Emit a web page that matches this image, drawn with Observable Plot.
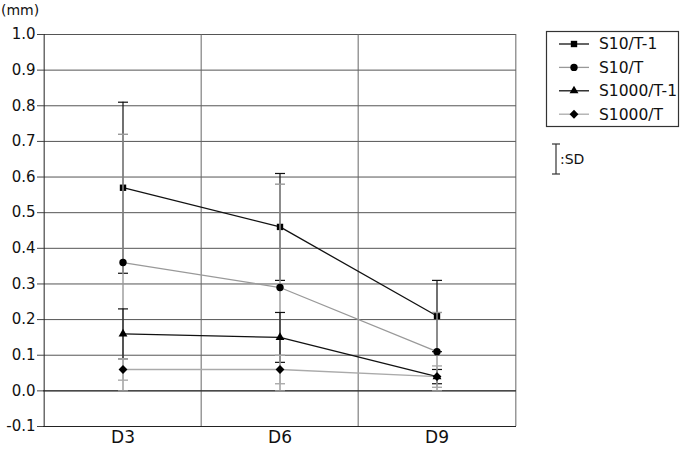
<!DOCTYPE html>
<html><head><meta charset="utf-8">
<script src="https://cdn.jsdelivr.net/npm/d3@7"></script>
<script src="https://cdn.jsdelivr.net/npm/@observablehq/plot@0.6"></script>
<style>
body{margin:0;background:#fff;font-family:"DejaVu Sans",sans-serif;}
#wrap{position:relative;width:685px;height:455px;}
#unit{position:absolute;left:1px;top:2px;font-size:14px;color:#111;}
#legend{position:absolute;left:0;top:0;pointer-events:none;}
</style></head>
<body><div id="wrap"><div id="unit">(mm)</div></div>
<script>
const days = ["D3","D6","D9"];
const seriesNames = ["S10/T-1","S10/T","S1000/T-1","S1000/T"];
const s10T1Mean = [0.57,0.46,0.21];
const s10T1SD   = [0.24,0.15,0.10];
const s10TMean  = [0.36,0.29,0.11];
const s10TSD    = [0.36,0.29,0.11];
const s1000T1Mean = [0.16,0.15,0.04];
const s1000T1SD   = [0.07,0.07,0.02];
const s1000TMean  = [0.06,0.06,0.04];
const s1000TSD    = [0.03,0.04,0.03];
const yTicks = [-0.1,0,0.1,0.2,0.3,0.4,0.5,0.6,0.7,0.8,0.9,1.0];

const colors = ["#111","#999","#111","#aaa"];
const symbols = ["square","circle","triangle","diamond2"];
const radii = [3.6,3.7,3.3,4.0];
const means = [s10T1Mean,s10TMean,s1000T1Mean,s1000TMean];
const sds = [s10T1SD,s10TSD,s1000T1SD,s1000TSD];

const W=685,H=455,ml=43,mr=169,mt=34,mb=29;
const bw=(W-ml-mr)/days.length;
const font='"DejaVu Sans",sans-serif';

const cap = {draw(ctx,size){const w=Math.sqrt(size/Math.PI);ctx.moveTo(-w,0);ctx.lineTo(w,0);}};

const seriesMarks = seriesNames.flatMap((name,k)=>{
  const rows = days.map((d,i)=>({day:d,mean:means[k][i],lo:means[k][i]-sds[k][i],hi:means[k][i]+sds[k][i]}));
  const c = colors[k];
  const sw = k%2===0 ? 1.2 : 1.4;
  return [
    Plot.ruleX(rows,{x:"day",y1:"lo",y2:"hi",stroke:c,strokeWidth:sw}),
    Plot.dot(rows,{x:"day",y:"lo",symbol:cap,r:5,stroke:c,strokeWidth:sw,fill:"none"}),
    Plot.dot(rows,{x:"day",y:"hi",symbol:cap,r:5,stroke:c,strokeWidth:sw,fill:"none"}),
    Plot.line(rows,{x:"day",y:"mean",stroke:c,strokeWidth:1.3}),
    Plot.dot(rows,{x:"day",y:"mean",symbol:symbols[k],r:radii[k],fill:"#000",stroke:"none"})
  ];
});

const chart = Plot.plot({
  width:W,height:H,marginLeft:ml,marginRight:mr,marginTop:mt,marginBottom:mb,
  style:{fontFamily:font,background:"#fff",color:"#111"},
  x:{type:"band",domain:days,padding:0,label:null},
  y:{domain:[-0.1,1.0],label:null},
  marks:[
    Plot.gridY(yTicks,{stroke:"#555",strokeOpacity:1}),
    Plot.ruleX(days.slice(1),{x:d=>d,dx:-bw/2,y1:-0.1,y2:1.0,stroke:"#666"}),
    Plot.ruleX([days[days.length-1]],{x:d=>d,dx:bw/2,y1:-0.1,y2:1.0,stroke:"#666"}),
    Plot.ruleY([0],{stroke:"#222"}),
    Plot.ruleY([-0.1],{stroke:"#222"}),
    Plot.ruleX([days[0]],{x:d=>d,dx:-bw/2,y1:-0.1,y2:1.0,stroke:"#222"}),
    Plot.axisY({ticks:yTicks,tickFormat:d=>d.toFixed(1),tickSize:6,tickPadding:2,fontSize:15,fontFamily:font,label:null,stroke:"#444"}),
    Plot.axisX({tickSize:0,tickPadding:4,fontSize:17,fontFamily:font,label:null}),
    ...seriesMarks
  ]
});
document.getElementById("wrap").appendChild(chart);

// legend overlay
const lg = d3.select("#wrap").append("svg").attr("id","legend").attr("width",W).attr("height",H);
lg.append("rect").attr("x",546.5).attr("y",31.5).attr("width",132).attr("height",95).attr("fill","#fff").attr("stroke","#333").attr("stroke-width",1.2);
seriesNames.forEach((name,k)=>{
  const y = 44 + k*23.4;
  lg.append("line").attr("x1",559).attr("x2",589).attr("y1",y).attr("y2",y).attr("stroke",colors[k]).attr("stroke-width",1.3);
  const s = {square:d3.symbolSquare,circle:d3.symbolCircle,triangle:d3.symbolTriangle,diamond2:d3.symbolDiamond2}[symbols[k]];
  lg.append("path").attr("d",d3.symbol(s,radii[k]*radii[k]*Math.PI)()).attr("transform",`translate(574,${y})`).attr("fill","#000");
  lg.append("text").attr("x",599).attr("y",y).attr("dy","0.35em").attr("font-family",font).attr("font-size",15.5).attr("fill","#111").text(name);
});
lg.append("line").attr("x1",556).attr("x2",556).attr("y1",144).attr("y2",174).attr("stroke","#333").attr("stroke-width",1.2);
lg.append("line").attr("x1",552).attr("x2",560).attr("y1",144).attr("y2",144).attr("stroke","#333").attr("stroke-width",1.2);
lg.append("line").attr("x1",552).attr("x2",560).attr("y1",174).attr("y2",174).attr("stroke","#333").attr("stroke-width",1.2);
lg.append("text").attr("x",560).attr("y",159).attr("dy","0.35em").attr("font-family",font).attr("font-size",14).attr("fill","#111").text(":SD");
</script></body></html>
